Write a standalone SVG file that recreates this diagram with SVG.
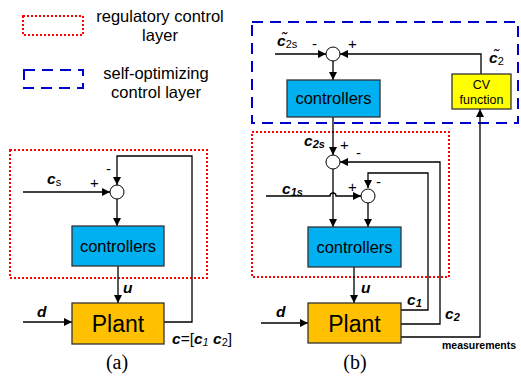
<svg xmlns="http://www.w3.org/2000/svg" width="521" height="378" viewBox="0 0 521 378">
  <style>
    text { font-family: "Liberation Sans", Arial, sans-serif; fill: #000; }
    .lbl { font-size: 16.5px; }
    .box { stroke: #333; stroke-width: 1.3; }
    .ctrl { fill: #00B0F0; }
    .plant { fill: #FFC000; }
    .cv { fill: #FFFF00; }
    .reg { fill: none; stroke: #FF0000; stroke-width: 2; stroke-dasharray: 2 2; }
    .selfopt { fill: none; stroke: #0000CC; stroke-width: 2; stroke-dasharray: 11 7; }
    .wire { fill: none; stroke: #000; stroke-width: 1.3; }
    .sum { fill: #fff; stroke: #000; stroke-width: 1; }
    .var { font-weight: bold; font-style: italic; font-size: 15.5px; }
    .sub { font-size: 11px; }
    .sign { font-size: 15px; }
    .cap { font-family: "Liberation Serif", "Times New Roman", serif; font-size: 20px; }
  </style>
  <defs>
    <marker id="arr" viewBox="0 0 10 10" refX="10" refY="5" markerWidth="8" markerHeight="8" markerUnits="userSpaceOnUse" orient="auto">
      <path d="M0,0 L10,5 L0,10 z" fill="#000"/>
    </marker>
  </defs>

  <!-- legend -->
  <g id="legend">
    <rect class="reg" x="23" y="16" width="60" height="19"/>
    <text class="lbl" x="160" y="22" text-anchor="middle">regulatory control</text>
    <text class="lbl" x="160" y="41" text-anchor="middle">layer</text>
    <rect class="selfopt" x="24" y="70" width="59" height="18"/>
    <text class="lbl" x="156" y="79" text-anchor="middle">self-optimizing</text>
    <text class="lbl" x="156" y="98" text-anchor="middle">control layer</text>
  </g>

  <!-- layer frames -->
  <g id="layers">
    <rect class="selfopt" x="252" y="22" width="266" height="101"/>
    <rect class="reg" x="10" y="150" width="197" height="128"/>
    <rect class="reg" x="252" y="132" width="197" height="145"/>
  </g>

  <!-- connectors -->
  <g id="connectors">
    <!-- (a) -->
    <line class="wire" x1="23" y1="192" x2="110" y2="192" marker-end="url(#arr)"/>
    <polyline class="wire" points="164,322 192,322 192,156 117,156 117,185" marker-end="url(#arr)"/>
    <line class="wire" x1="117" y1="199" x2="117" y2="226" marker-end="url(#arr)"/>
    <line class="wire" x1="118" y1="266" x2="118" y2="303" marker-end="url(#arr)"/>
    <line class="wire" x1="23" y1="322" x2="72" y2="322" marker-end="url(#arr)"/>

    <!-- (b) self-optimizing loop -->
    <line class="wire" x1="275" y1="54" x2="326" y2="54" marker-end="url(#arr)"/>
    <polyline class="wire" points="481,74 481,54 340,54" marker-end="url(#arr)"/>
    <line class="wire" x1="333" y1="61" x2="333" y2="80" marker-end="url(#arr)"/>
    <line class="wire" x1="333" y1="117" x2="333" y2="155" marker-end="url(#arr)"/>
    <polyline class="wire" points="401,337 480,337 480,109" marker-end="url(#arr)"/>

    <!-- (b) regulatory loops -->
    <polyline class="wire" points="401,324 440,324 440,162 340,162" marker-end="url(#arr)"/>
    <polyline class="wire" points="401,310 428,310 428,173 368,173 368,188" marker-end="url(#arr)"/>
    <path class="wire" d="M266,196 L330,196 A3,3 0 0 1 336,196 L361,196" marker-end="url(#arr)"/>
    <line class="wire" x1="333" y1="169" x2="333" y2="227" marker-end="url(#arr)"/>
    <line class="wire" x1="368" y1="203" x2="368" y2="227" marker-end="url(#arr)"/>
    <line class="wire" x1="354" y1="267" x2="354" y2="303" marker-end="url(#arr)"/>
    <line class="wire" x1="261" y1="323" x2="308" y2="323" marker-end="url(#arr)"/>
  </g>

  <!-- (a) nodes -->
  <g id="sum-a"><circle class="sum" cx="117" cy="192" r="7"/></g>
  <g id="controllers-a">
    <rect class="box ctrl" x="72" y="226" width="92" height="40"/>
    <text x="118" y="252" text-anchor="middle" font-size="16.5">controllers</text>
  </g>
  <g id="plant-a">
    <rect class="box plant" x="72" y="303" width="92" height="41"/>
    <text x="118" y="332" text-anchor="middle" font-size="23">Plant</text>
  </g>

  <!-- (b) nodes -->
  <g id="sum-b-top"><circle class="sum" cx="333" cy="54" r="7"/></g>
  <g id="controllers-b-top">
    <rect class="box ctrl" x="287" y="80" width="93" height="37"/>
    <text x="333.5" y="104" text-anchor="middle" font-size="16.5">controllers</text>
  </g>
  <g id="cv-function">
    <rect class="box cv" x="452" y="74" width="59" height="35"/>
    <text x="481.5" y="89" text-anchor="middle" font-size="12.5">CV</text>
    <text x="481.5" y="104" text-anchor="middle" font-size="12.5">function</text>
  </g>
  <g id="sum-b-c2"><circle class="sum" cx="333" cy="162" r="7"/></g>
  <g id="sum-b-c1"><circle class="sum" cx="368" cy="196" r="7"/></g>
  <g id="controllers-b">
    <rect class="box ctrl" x="308" y="227" width="93" height="40"/>
    <text x="354.5" y="253" text-anchor="middle" font-size="16.5">controllers</text>
  </g>
  <g id="plant-b">
    <rect class="box plant" x="308" y="303" width="93" height="40"/>
    <text x="354.5" y="332" text-anchor="middle" font-size="23">Plant</text>
  </g>

  <!-- labels (a) -->
  <g id="labels-a">
    <text x="47" y="184"><tspan class="var">c</tspan><tspan class="sub" dy="2">s</tspan></text>
    <text class="sign" x="90" y="188">+</text>
    <text class="sign" x="106" y="174">-</text>
    <text class="var" x="123" y="293">u</text>
    <text class="var" x="37" y="317">d</text>
    <text x="172" y="344"><tspan class="var">c</tspan><tspan font-size="15.5">=[</tspan><tspan class="var">c</tspan><tspan class="sub" font-style="italic" dy="2">1</tspan><tspan dy="-2" font-size="15.5"> </tspan><tspan class="var">c</tspan><tspan class="sub" dy="2">2</tspan><tspan font-size="15.5" dy="-2">]</tspan></text>
    <text class="cap" x="117" y="369" text-anchor="middle">(a)</text>
  </g>

  <!-- labels (b) -->
  <g id="labels-b">
    <text x="277" y="46"><tspan class="var">c&#771;</tspan><tspan class="sub" dy="2">2s</tspan></text>
    <text class="sign" x="312" y="49">-</text>
    <text class="sign" x="348" y="49">+</text>
    <text x="489" y="63"><tspan class="var">c&#771;</tspan><tspan class="sub" dy="2">2</tspan></text>
    <text x="304" y="146"><tspan class="var">c</tspan><tspan class="var sub" dy="2">2s</tspan></text>
    <text class="sign" x="340" y="150">+</text>
    <text class="sign" x="356" y="158">-</text>
    <text x="282" y="194"><tspan class="var">c</tspan><tspan class="var sub" dy="2">1s</tspan></text>
    <text class="sign" x="348" y="192">+</text>
    <text class="sign" x="376" y="187">-</text>
    <text class="var" x="361" y="293">u</text>
    <text class="var" x="276" y="317">d</text>
    <text x="407" y="305"><tspan class="var">c</tspan><tspan class="var sub" dy="2">1</tspan></text>
    <text x="445" y="319"><tspan class="var">c</tspan><tspan class="var sub" dy="2">2</tspan></text>
    <text x="442" y="349" font-size="10.5" font-weight="bold">measurements</text>
    <text class="cap" x="355" y="369" text-anchor="middle">(b)</text>
  </g>
</svg>
